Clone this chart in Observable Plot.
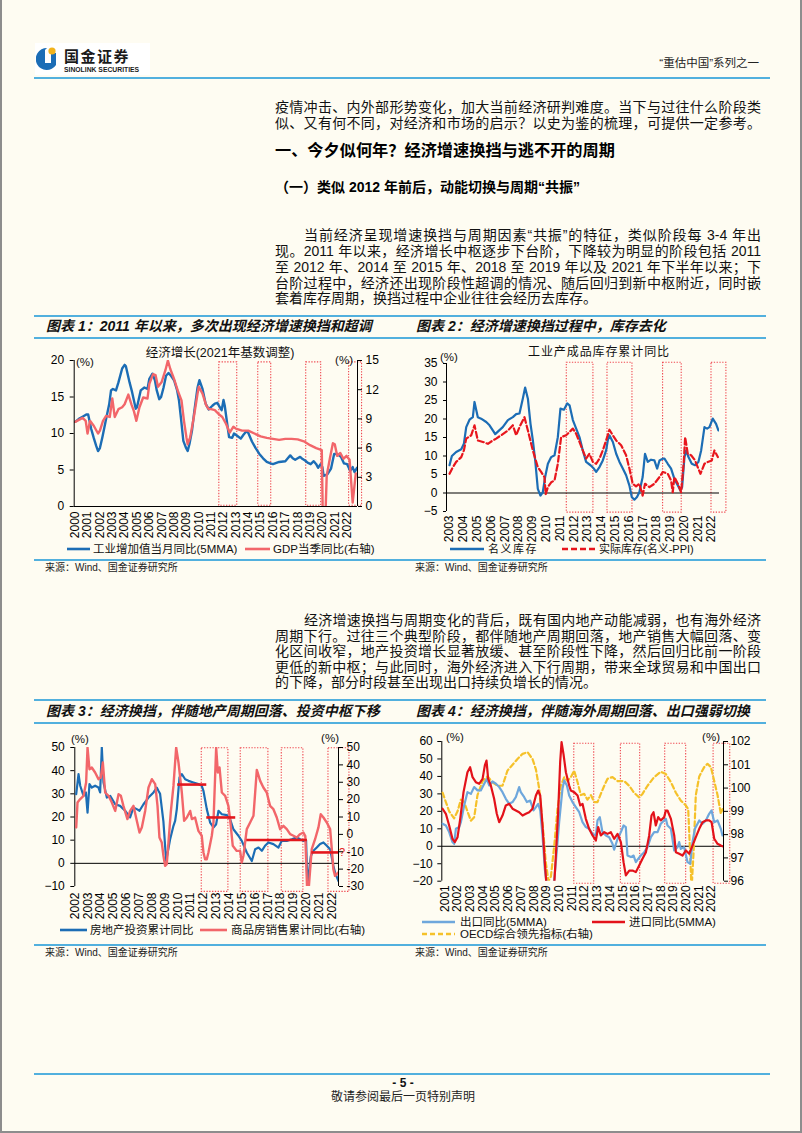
<!DOCTYPE html>
<html><head><meta charset="utf-8">
<script src="https://cdn.jsdelivr.net/npm/d3@7"></script>
<script src="https://cdn.jsdelivr.net/npm/@observablehq/plot@0.6"></script>
<style>
html,body{margin:0;padding:0;background:#fefcf2;}
#page{position:relative;width:802px;height:1133px;overflow:hidden;background:#fefcf2;font-family:"Liberation Sans","Noto Sans CJK SC",sans-serif;color:#111;box-sizing:border-box;border-left:2px solid #8d8d8d;border-right:2px solid #8d8d8d;border-bottom:2px solid #8d8d8d;}
.t{position:absolute;white-space:nowrap;}
.j{white-space:normal;text-align:justify;text-align-last:justify;}
.hl{position:absolute;height:2px;background:#52b0de;}
.chart{position:absolute;}
.chart svg{display:block;overflow:visible;}
</style></head>
<body><div id="page"></div>
<script>
// ---------------- DATA ----------------
// Chart 1: 工业增加值当月同比(5MMA) (left, %), GDP当季同比 (right, %)
const c1Years = [2000,2001,2002,2003,2004,2005,2006,2007,2008,2009,2010,2011,2012,2013,2014,2015,2016,2017,2018,2019,2020,2021,2022];
const c1LeftTicks = [0,5,10,15,20];
const c1RightTicks = [0,3,6,9,12,15];
const c1IP = [[2000.0,11.6],[2000.3,12.0],[2000.6,12.3],[2000.9,12.6],[2001.05,12.6],[2001.3,10.6],[2001.5,9.4],[2001.7,8.3],[2001.85,7.6],[2002.0,8.0],[2002.2,9.5],[2002.5,12.0],[2002.75,14.0],[2002.9,15.9],[2003.05,16.1],[2003.3,15.9],[2003.5,17.0],[2003.8,18.9],[2004.0,19.4],[2004.1,19.2],[2004.4,17.0],[2004.6,15.7],[2004.9,13.4],[2005.0,13.6],[2005.3,15.9],[2005.6,16.3],[2005.85,16.1],[2006.0,17.5],[2006.25,18.2],[2006.45,17.3],[2006.6,15.9],[2006.8,14.7],[2006.95,15.0],[2007.15,16.3],[2007.35,17.9],[2007.55,18.3],[2007.75,17.9],[2008.0,17.3],[2008.25,15.9],[2008.4,14.5],[2008.55,12.2],[2008.75,9.0],[2008.95,8.1],[2009.1,7.6],[2009.25,8.6],[2009.45,10.4],[2009.65,13.2],[2009.9,16.3],[2010.05,17.3],[2010.3,16.1],[2010.55,14.1],[2010.8,13.3],[2011.1,13.8],[2011.3,14.1],[2011.5,14.2],[2011.7,13.6],[2011.85,13.2],[2012.0,14.6],[2012.1,13.8],[2012.3,11.3],[2012.45,9.5],[2012.7,9.4],[2012.85,10.0],[2013.1,9.7],[2013.4,9.3],[2013.6,9.8],[2013.85,10.3],[2014.0,10.1],[2014.3,8.9],[2014.6,8.0],[2014.9,7.2],[2015.2,6.6],[2015.5,6.1],[2015.8,5.9],[2016.0,5.8],[2016.5,6.1],[2017.0,6.2],[2017.2,6.6],[2017.4,7.0],[2017.6,6.6],[2017.8,6.4],[2018.0,6.6],[2018.2,6.8],[2018.4,6.5],[2018.6,6.3],[2018.8,6.0],[2019.05,5.8],[2019.3,6.2],[2019.5,5.8],[2019.65,5.3],[2019.85,5.8],[2020.0,5.4],[2020.1,4.2],[2020.4,4.4],[2020.7,5.2],[2020.95,7.2],[2021.2,7.2],[2021.5,6.8],[2021.75,5.9],[2022.0,5.8],[2022.25,4.9],[2022.45,5.4],[2022.6,4.7],[2022.8,5.3]];
const c1GDP = [[2000.0,8.7],[2000.3,8.9],[2000.6,9.1],[2000.85,8.8],[2001.0,7.5],[2001.2,8.8],[2001.5,8.3],[2001.85,7.5],[2002.0,7.8],[2002.25,8.8],[2002.5,9.3],[2002.8,9.2],[2003.0,11.1],[2003.2,9.2],[2003.5,10.0],[2003.8,10.2],[2004.0,10.5],[2004.3,11.5],[2004.55,10.5],[2004.75,9.8],[2004.95,8.8],[2005.2,10.2],[2005.5,11.2],[2005.85,11.1],[2006.0,12.6],[2006.3,13.6],[2006.5,13.5],[2006.7,12.3],[2007.0,12.8],[2007.3,14.0],[2007.5,15.0],[2007.7,14.1],[2008.0,13.1],[2008.3,11.9],[2008.6,10.9],[2008.8,8.8],[2009.0,7.1],[2009.1,6.4],[2009.3,7.1],[2009.6,9.2],[2009.9,11.6],[2010.0,12.3],[2010.3,11.6],[2010.6,10.4],[2010.8,10.0],[2011.0,10.0],[2011.3,9.9],[2011.6,9.5],[2011.9,9.2],[2012.2,8.5],[2012.5,7.6],[2012.8,8.2],[2013.0,8.0],[2013.5,7.8],[2014.0,7.8],[2014.5,7.5],[2015.0,7.2],[2015.5,7.05],[2016.0,6.95],[2016.5,6.85],[2017.0,6.95],[2017.5,6.95],[2018.0,6.9],[2018.5,6.7],[2019.0,6.3],[2019.5,6.0],[2019.95,5.8],[2020.1,-6.8],[2020.35,3.2],[2020.6,4.9],[2020.85,6.5],[2021.0,6.4],[2021.2,5.2],[2021.45,5.5],[2021.7,4.9],[2021.95,5.2],[2022.2,4.8],[2022.45,0.4],[2022.7,3.4]];
const c1Boxes = [[2011.66,2013.11],[2014.81,2015.86],[2018.69,2019.90],[2022.16,2023.21]];

// Chart 2: 工业产成品库存累计同比
const c2Years = [2003,2004,2005,2006,2007,2008,2009,2010,2011,2012,2013,2014,2015,2016,2017,2018,2019,2020,2021,2022];
const c2Ticks = [-5,0,5,10,15,20,25,30,35];
const c2Nominal = [[2003.0,7.5],[2003.17,10.0],[2003.48,11.1],[2003.85,11.8],[2004.04,13.3],[2004.21,17.8],[2004.45,19.8],[2004.69,20.5],[2004.81,24.6],[2005.05,20.5],[2005.29,20.1],[2005.66,19.2],[2005.9,18.3],[2006.21,16.5],[2006.31,15.9],[2006.62,17.0],[2006.86,17.8],[2007.23,19.7],[2007.59,20.5],[2007.83,21.3],[2008.07,21.5],[2008.31,25.5],[2008.48,28.5],[2008.68,25.5],[2008.87,18.7],[2009.04,14.2],[2009.21,8.8],[2009.4,1.1],[2009.59,-0.7],[2009.76,0.2],[2009.93,4.3],[2010.13,7.9],[2010.37,9.7],[2010.61,10.2],[2010.85,15.1],[2011.04,22.8],[2011.29,22.5],[2011.53,24.2],[2011.7,23.7],[2011.94,19.7],[2012.18,17.4],[2012.42,15.1],[2012.66,11.5],[2012.9,8.4],[2013.22,7.5],[2013.46,6.6],[2013.63,5.7],[2013.87,7.0],[2014.11,8.8],[2014.35,11.5],[2014.47,14.2],[2014.59,15.6],[2014.84,13.8],[2015.08,10.6],[2015.32,8.4],[2015.56,6.6],[2015.8,4.8],[2016.04,2.0],[2016.21,-1.1],[2016.4,-1.8],[2016.59,-1.1],[2016.76,0.2],[2017.0,4.3],[2017.17,10.6],[2017.37,8.4],[2017.61,9.0],[2017.85,8.8],[2018.05,6.6],[2018.22,8.8],[2018.46,9.3],[2018.58,9.3],[2018.82,7.9],[2019.06,6.6],[2019.3,3.8],[2019.55,2.0],[2019.74,0.7],[2019.86,1.6],[2020.03,9.7],[2020.15,11.5],[2020.32,9.7],[2020.56,7.9],[2020.8,7.5],[2021.04,8.4],[2021.24,11.5],[2021.48,17.8],[2021.67,17.4],[2021.84,17.8],[2022.08,20.1],[2022.32,18.7],[2022.49,16.9]];
const c2Real = [[2003.0,5.2],[2003.24,7.0],[2003.48,8.4],[2003.85,9.7],[2004.04,11.5],[2004.21,14.7],[2004.57,15.6],[2004.81,18.3],[2005.05,14.2],[2005.42,13.8],[2005.78,13.3],[2006.14,14.2],[2006.38,14.7],[2006.74,15.6],[2007.23,16.9],[2007.59,18.3],[2007.83,15.6],[2008.07,17.8],[2008.43,20.5],[2008.68,16.9],[2009.04,11.5],[2009.4,7.0],[2009.64,5.7],[2009.88,4.3],[2009.97,-0.3],[2010.13,1.6],[2010.37,2.9],[2010.61,3.4],[2010.85,7.9],[2011.09,15.1],[2011.45,15.6],[2011.7,16.5],[2011.94,17.4],[2012.18,16.0],[2012.42,13.8],[2012.66,11.5],[2012.9,9.3],[2013.14,10.6],[2013.39,8.4],[2013.63,7.9],[2013.87,9.3],[2014.11,11.5],[2014.35,14.2],[2014.59,17.1],[2014.84,15.6],[2015.08,14.2],[2015.44,12.9],[2015.8,10.2],[2016.04,6.6],[2016.28,2.5],[2016.52,1.8],[2016.76,2.5],[2017.0,-0.7],[2017.17,2.5],[2017.49,1.6],[2017.85,2.5],[2018.22,4.3],[2018.46,5.7],[2018.82,5.2],[2019.06,3.4],[2019.18,0.2],[2019.3,4.3],[2019.55,2.5],[2019.79,0.2],[2019.98,8.4],[2020.08,15.1],[2020.27,10.6],[2020.51,10.2],[2020.8,8.8],[2020.99,7.0],[2021.19,5.2],[2021.48,7.9],[2021.72,8.4],[2022.01,8.8],[2022.2,11.5],[2022.45,9.7]];
const c2Boxes = [[2011.5,2013.43],[2014.45,2016.26],[2018.48,2019.83],[2021.99,2023.07]];

// Chart 3: 房地产投资累计同比 (left), 商品房销售累计同比 (right)
const c3Years = [2002,2003,2004,2005,2006,2007,2008,2009,2010,2011,2012,2013,2014,2015,2016,2017,2018,2019,2020,2021,2022];
const c3LeftTicks = [-10,0,10,20,30,40,50];
const c3RightTicks = [-30,-20,-10,0,10,20,30,40,50];
const c3Invest = [[2002.11,29.9],[2002.29,38.5],[2002.42,33.5],[2002.68,29.1],[2002.86,30.6],[2002.99,21.9],[2003.14,34.2],[2003.32,32.7],[2003.58,33.5],[2003.84,32.7],[2003.97,30.6],[2004.1,50],[2004.23,34.9],[2004.49,28.4],[2004.75,29.1],[2005.14,25.5],[2005.52,24.8],[2005.91,22.7],[2006.3,19.8],[2006.56,24.1],[2006.82,23.4],[2007.03,22.7],[2007.34,25.5],[2007.73,28.4],[2008.12,30.6],[2008.37,32.7],[2008.5,31.3],[2008.63,30.0],[2008.89,18.0],[2009.1,1.0],[2009.41,10.4],[2009.67,16.2],[2009.8,18.3],[2009.93,23.4],[2010.14,37.1],[2010.32,38.5],[2010.58,36.3],[2010.84,35.6],[2011.22,34.9],[2011.61,34.2],[2011.87,33.5],[2012.0,31.3],[2012.26,23.4],[2012.52,17.6],[2012.78,15.5],[2012.99,16.9],[2013.17,22.7],[2013.43,21.2],[2013.82,20.8],[2014.07,19.1],[2014.33,14.7],[2014.72,11.9],[2014.98,9.7],[2015.37,4.7],[2015.76,1.0],[2016.02,6.1],[2016.28,6.8],[2016.54,5.4],[2016.79,7.6],[2017.05,9.0],[2017.44,8.3],[2017.83,6.8],[2018.09,9.7],[2018.48,9.7],[2018.87,10.4],[2019.26,11.2],[2019.51,10.4],[2019.77,9.7],[2019.98,9.9],[2020.12,-16.3],[2020.22,-3.0],[2020.35,3.2],[2020.55,5.4],[2020.81,6.8],[2021.07,8.3],[2021.33,9.0],[2021.59,7.6],[2021.85,6.1],[2022.1,-1.0],[2022.23,-4.0],[2022.49,-7.6]];
const c3Sales = [[2002.11,4.0],[2002.21,18.3],[2002.42,20.3],[2002.68,22.2],[2002.88,29.9],[2002.99,50],[2003.14,37.5],[2003.32,38.5],[2003.58,35.6],[2003.84,31.8],[2004.02,32.7],[2004.18,41.4],[2004.36,24.1],[2004.62,22.2],[2004.88,18.3],[2005.14,13.5],[2005.4,23.1],[2005.58,22.2],[2005.78,16.4],[2006.09,8.8],[2006.3,13.5],[2006.56,16.4],[2006.82,7.8],[2007.03,1.1],[2007.21,4.0],[2007.47,13.5],[2007.73,27.0],[2007.99,31.8],[2008.25,28.9],[2008.43,16.4],[2008.58,-1.8],[2008.76,-4.7],[2008.89,-12.3],[2009.02,-18.1],[2009.15,-17.1],[2009.28,-4.7],[2009.46,12.6],[2009.67,27.9],[2009.88,50],[2010.06,41.4],[2010.32,24.1],[2010.5,7.8],[2010.71,9.7],[2010.97,13.5],[2011.1,8.8],[2011.35,9.7],[2011.61,2.0],[2011.87,-0.8],[2012.0,-10.4],[2012.13,-14.3],[2012.26,-14.3],[2012.39,-10.4],[2012.65,-0.8],[2012.78,6.8],[2012.99,50],[2013.12,35.6],[2013.25,38.5],[2013.43,24.1],[2013.69,22.2],[2013.94,16.4],[2014.07,8.8],[2014.28,-6.6],[2014.59,-9.5],[2014.85,-9.5],[2014.98,-16.2],[2015.11,-12.3],[2015.37,3.0],[2015.63,6.8],[2015.89,10.7],[2016.15,37.1],[2016.41,30.8],[2016.66,27.0],[2016.92,24.1],[2017.18,16.4],[2017.44,14.5],[2017.7,9.7],[2017.96,3.0],[2018.22,4.9],[2018.48,3.0],[2018.74,0.1],[2019.0,-0.8],[2019.26,-1.8],[2019.51,0.1],[2019.77,1.1],[2019.92,-1.0],[2020.1,-39.9],[2020.25,-24.7],[2020.42,-8.5],[2020.68,-2.8],[2020.94,4.0],[2021.12,11.6],[2021.33,9.7],[2021.59,6.8],[2021.85,3.0],[2021.98,-8.5],[2022.1,-20.0],[2022.23,-23.9],[2022.49,-21.9]];
const c3Centers = [[2010.0,2012.26,34.0],[2012.26,2014.51,19.8],[2015.37,2020.08,10.1],[2020.42,2022.5,4.7]];
const c3Boxes = [[2011.87,2013.94],[2014.9,2017.05],[2018.09,2019.77],[2021.72,2023.35]];

// Chart 4: 出口同比(5MMA), 进口同比(5MMA) (left), OECD综合领先指标 (right)
const c4Years = [2001,2002,2003,2004,2005,2006,2007,2008,2009,2010,2011,2012,2013,2014,2015,2016,2017,2018,2019,2020,2021,2022];
const c4LeftTicks = [-20,-10,0,10,20,30,40,50,60];
const c4RightTicks = [96,97,98,99,100,101,102];
const c4Export = [[2000.82,12.9],[2001.08,11.9],[2001.34,8.1],[2001.6,2.4],[2001.73,1.4],[2001.87,10.0],[2002.13,11.0],[2002.26,13.8],[2002.52,23.4],[2002.78,31.0],[2003.05,30.0],[2003.31,33.9],[2003.57,32.0],[2003.83,32.0],[2004.1,35.8],[2004.31,38.6],[2004.49,34.8],[2004.75,37.1],[2005.02,35.8],[2005.28,33.9],[2005.54,31.0],[2005.8,27.2],[2006.07,24.3],[2006.33,25.3],[2006.59,28.1],[2006.85,33.9],[2006.98,31.0],[2007.25,28.1],[2007.46,25.3],[2007.72,26.2],[2007.98,20.5],[2008.17,22.4],[2008.35,24.3],[2008.51,20.5],[2008.69,6.2],[2008.87,-12.9],[2009.03,-22],[2009.35,-24],[2009.61,-19.6],[2009.74,-9.1],[2010.0,13.8],[2010.26,32.9],[2010.4,37.7],[2010.61,34.8],[2010.79,29.1],[2011.05,25.3],[2011.31,22.4],[2011.58,19.5],[2011.84,13.8],[2012.1,11.0],[2012.36,10.0],[2012.63,7.1],[2012.89,6.2],[2013.02,14.8],[2013.2,16.7],[2013.41,8.1],[2013.68,6.2],[2013.94,5.2],[2014.2,1.4],[2014.33,-1.9],[2014.6,4.3],[2014.86,8.1],[2015.07,11.9],[2015.25,11.0],[2015.38,-5.3],[2015.65,-6.2],[2015.86,-5.3],[2016.04,-9.1],[2016.22,-7.2],[2016.43,-5.3],[2016.7,-3.4],[2016.96,-0.5],[2017.22,5.2],[2017.48,8.1],[2017.75,8.1],[2018.0,12.9],[2018.27,14.8],[2018.4,15.7],[2018.53,11.9],[2018.8,10.0],[2019.06,-2.4],[2019.32,-0.5],[2019.45,2.4],[2019.58,-1.5],[2019.84,-0.5],[2020.11,-9.1],[2020.32,-10.0],[2020.5,2.4],[2020.69,10.0],[2021.03,14.8],[2021.29,12.9],[2021.55,14.8],[2021.81,18.6],[2022.0,20.5],[2022.21,13.8],[2022.47,14.8],[2022.73,10.0],[2022.86,6.2]];
const c4Import = [[2000.82,21.5],[2001.08,18.6],[2001.34,11.9],[2001.6,4.3],[2001.79,2.4],[2002.0,5.2],[2002.21,15.7],[2002.47,31.0],[2002.78,42.4],[2002.99,45.3],[2003.18,39.6],[2003.44,36.7],[2003.7,35.8],[2003.97,38.6],[2004.15,46.3],[2004.28,49.1],[2004.41,38.6],[2004.62,34.8],[2004.88,27.2],[2005.09,18.6],[2005.28,13.8],[2005.54,17.6],[2005.8,23.4],[2006.07,24.3],[2006.33,21.5],[2006.59,20.5],[2006.85,19.5],[2007.12,17.6],[2007.38,18.6],[2007.64,19.5],[2007.9,21.5],[2008.17,29.1],[2008.35,31.9],[2008.51,29.1],[2008.69,11.9],[2008.87,-9.1],[2009.03,-25],[2009.61,-22],[2009.74,-5.3],[2009.92,19.5],[2010.08,48.2],[2010.19,59.6],[2010.34,52.9],[2010.53,42.4],[2010.79,34.8],[2010.92,31.9],[2011.18,31.0],[2011.45,29.1],[2011.66,23.4],[2011.84,24.3],[2012.1,15.7],[2012.36,10.0],[2012.63,6.2],[2012.89,3.3],[2013.07,11.0],[2013.28,6.2],[2013.55,8.1],[2013.81,7.1],[2014.07,8.1],[2014.33,4.3],[2014.6,7.1],[2014.86,2.4],[2015.07,-9.1],[2015.25,-16.7],[2015.52,-13.9],[2015.78,-13.9],[2016.04,-14.8],[2016.3,-11.0],[2016.56,-7.2],[2016.83,-3.4],[2017.09,6.2],[2017.27,17.6],[2017.43,19.5],[2017.61,11.9],[2017.8,16.7],[2018.0,14.8],[2018.27,16.7],[2018.4,20.5],[2018.53,20.5],[2018.8,15.7],[2019.06,6.2],[2019.19,-3.4],[2019.45,-4.3],[2019.71,-5.3],[2019.98,-2.4],[2020.24,-4.3],[2020.5,0.4],[2020.76,5.2],[2021.03,10.0],[2021.29,13.8],[2021.55,14.8],[2021.81,14.8],[2022.0,13.8],[2022.21,4.3],[2022.47,1.4],[2022.73,0.4],[2022.86,0.0]];
const c4OECD = [[2000.82,99.8],[2001.08,99.4],[2001.34,99.0],[2001.73,98.7],[2002.0,99.0],[2002.26,99.5],[2002.52,99.4],[2002.78,99.0],[2003.05,98.6],[2003.31,98.75],[2003.57,99.7],[2003.97,100.3],[2004.36,100.5],[2004.75,100.25],[2005.15,100.1],[2005.54,100.1],[2005.93,100.75],[2006.33,101.0],[2006.72,101.25],[2007.12,101.47],[2007.51,101.54],[2007.9,101.25],[2008.17,100.8],[2008.43,99.97],[2008.69,98.5],[2008.95,96.8],[2009.16,96.0],[2009.35,96.2],[2009.61,97.5],[2009.87,99.1],[2010.13,100.1],[2010.4,100.47],[2010.66,100.3],[2010.92,100.47],[2011.18,100.75],[2011.45,100.25],[2011.71,99.7],[2011.97,99.75],[2012.23,99.5],[2012.5,99.7],[2012.76,99.4],[2013.02,99.4],[2013.28,99.75],[2013.55,100.1],[2013.81,100.4],[2014.2,100.47],[2014.6,100.3],[2015.12,100.3],[2015.51,100.1],[2015.9,99.8],[2016.3,99.6],[2016.56,99.75],[2016.96,100.1],[2017.48,100.47],[2018.0,100.7],[2018.4,100.6],[2018.8,100.25],[2019.19,99.8],[2019.58,99.46],[2019.98,99.25],[2020.16,99.1],[2020.32,97.1],[2020.42,95.6],[2020.58,97.2],[2020.76,99.7],[2021.03,100.5],[2021.42,100.9],[2021.68,101.04],[2021.95,100.9],[2022.21,100.3],[2022.47,99.7],[2022.73,98.9],[2022.86,99.1]];
const c4Boxes = [[2011.19,2012.76],[2014.86,2016.38],[2018.35,2020.0],[2022.16,2023.47]];

// ---------------- PAGE HELPERS ----------------
const page = document.getElementById("page");
const CJK = '"Liberation Sans","Noto Sans CJK SC",sans-serif';
function T(txt, x, y, o = {}) {
  const d = document.createElement("div");
  d.className = "t";
  const lh = o.lh || 18;
  d.style.left = x + "px";
  d.style.top = (y - lh / 2) + "px";
  d.style.lineHeight = lh + "px";
  d.style.fontSize = (o.size || 14) + "px";
  d.style.fontFamily = o.family || CJK;
  if (o.weight) d.style.fontWeight = o.weight;
  if (o.italic) d.style.fontStyle = "italic";
  if (o.color) d.style.color = o.color;
  if (o.ls) d.style.letterSpacing = o.ls + "px";
  if (o.width) d.style.width = o.width + "px";
  if (o.justify) d.classList.add("j");
  if (o.anchor === "middle") d.style.transform = "translateX(-50%)";
  if (o.anchor === "end") d.style.transform = "translateX(-100%)";
  d.textContent = txt;
  page.appendChild(d);
  return d;
}
function HL(x1, x2, y, color, h) {
  const d = document.createElement("div");
  d.className = "hl";
  d.style.left = x1 + "px"; d.style.width = (x2 - x1) + "px";
  d.style.top = (y - (h || 2) / 2) + "px"; d.style.height = (h || 2) + "px";
  if (color) d.style.background = color;
  page.appendChild(d);
}
function swatch(x1, x2, y, color, width, dash) {
  const ns = "http://www.w3.org/2000/svg";
  const s = document.createElementNS(ns, "svg");
  s.setAttribute("width", x2 - x1); s.setAttribute("height", 8);
  s.style.position = "absolute"; s.style.left = x1 + "px"; s.style.top = (y - 4) + "px";
  const l = document.createElementNS(ns, "line");
  l.setAttribute("x1", 0); l.setAttribute("x2", x2 - x1); l.setAttribute("y1", 4); l.setAttribute("y2", 4);
  l.setAttribute("stroke", color); l.setAttribute("stroke-width", width);
  if (dash) l.setAttribute("stroke-dasharray", dash);
  s.appendChild(l); page.appendChild(s);
}

// ---------------- HEADER ----------------
(function header() {
  const box = document.createElement("div");
  box.style.cssText = "position:absolute;left:33px;top:43px;width:115px;height:32px;background:#ffffff;";
  page.appendChild(box);
  const ns = "http://www.w3.org/2000/svg";
  const s = document.createElementNS(ns, "svg");
  s.setAttribute("width", 22); s.setAttribute("height", 26);
  s.style.cssText = "position:absolute;left:34px;top:46px;";
  s.innerHTML = '<path d="M11 2 A11 11 0 1 0 20 19 L20 7 L13 7 L13 17 L9 17 L9 4 Z" fill="#1b6db6"/><rect x="9" y="7" width="6" height="10" fill="#ffffff"/><circle cx="16" cy="5" r="3.6" fill="#f2b31b"/>';
  page.appendChild(s);
  T("国金证券", 62, 57, {size: 15, weight: 700, ls: 1.5, color: "#1a1a1a"});
  T("SINOLINK SECURITIES", 62, 69.5, {size: 6.8, weight: 700, color: "#1a1a1a", lh: 8, family: '"Liberation Sans",sans-serif'});
  T("“重估中国”系列之一", 757, 63, {size: 11.5, anchor: "end", color: "#222"});
  HL(32, 768, 77.5, "#52b0de", 2);
})();

// ---------------- BODY TEXT ----------------
const bodyO = {size: 14, weight: 400, lh: 16, color: "#111"};
const LX = 273, LW = 486;
T("疫情冲击、内外部形势变化，加大当前经济研判难度。当下与过往什么阶段类", LX, 106.5, {...bodyO, width: LW, justify: true});
T("似、又有何不同，对经济和市场的启示？以史为鉴的梳理，可提供一定参考。", LX, 123, {...bodyO, width: LW, justify: true});
T("一、今夕似何年？经济增速换挡与逃不开的周期", LX, 150, {size: 16.2, weight: 700, lh: 20, color: "#000"});
T("（一）类似 2012 年前后，动能切换与周期“共振”", LX, 186.5, {size: 14, weight: 700, lh: 18, color: "#000"});
const p1 = [
  "当前经济呈现增速换挡与周期因素“共振”的特征，类似阶段每 3-4 年出",
  "现。2011 年以来，经济增长中枢逐步下台阶，下降较为明显的阶段包括 2011",
  "至 2012 年、2014 至 2015 年、2018 至 2019 年以及 2021 年下半年以来；下",
  "台阶过程中，经济还出现阶段性超调的情况、随后回归到新中枢附近，同时嵌",
  "套着库存周期，换挡过程中企业往往会经历去库存。"];
const p1y = [235, 251, 267, 282.5, 298];
p1.forEach((s, i) => {
  if (i === 0) T(s, LX + 29, p1y[i], {...bodyO, width: LW - 29, justify: true});
  else if (i === p1.length - 1) T(s, LX, p1y[i], bodyO);
  else T(s, LX, p1y[i], {...bodyO, width: LW, justify: true});
});
const p2 = [
  "经济增速换挡与周期变化的背后，既有国内地产动能减弱，也有海外经济",
  "周期下行。过往三个典型阶段，都伴随地产周期回落，地产销售大幅回落、变",
  "化区间收窄，地产投资增长显著放缓、甚至阶段性下降，然后回归比前一阶段",
  "更低的新中枢；与此同时，海外经济进入下行周期，带来全球贸易和中国出口",
  "的下降，部分时段甚至出现出口持续负增长的情况。"];
const p2y = [620, 635.5, 651, 666.5, 682];
p2.forEach((s, i) => {
  if (i === 0) T(s, LX + 29, p2y[i], {...bodyO, width: LW - 29, justify: true});
  else if (i === p2.length - 1) T(s, LX, p2y[i], bodyO);
  else T(s, LX, p2y[i], {...bodyO, width: LW, justify: true});
});

// ---------------- CHART FRAMES ----------------
const titleO = {size: 14, weight: 700, italic: true, lh: 20, color: "#111"};
HL(32, 764, 316); HL(32, 764, 338); HL(32, 764, 560);
HL(32, 764, 700); HL(32, 764, 723); HL(32, 764, 945);
T("图表 1：2011 年以来，多次出现经济增速换挡和超调", 44, 326, titleO);
T("图表 2：经济增速换挡过程中，库存去化", 414, 326, titleO);
T("图表 3：经济换挡，伴随地产周期回落、投资中枢下移", 44, 711, titleO);
T("图表 4：经济换挡，伴随海外周期回落、出口强弱切换", 414, 711, titleO);
const srcO = {size: 10, lh: 14, color: "#222"};
T("来源：Wind、国金证券研究所", 43, 568, srcO);
T("来源：Wind、国金证券研究所", 413, 568, srcO);
T("来源：Wind、国金证券研究所", 43, 953, srcO);
T("来源：Wind、国金证券研究所", 413, 953, srcO);

// ---------------- PLOT HELPERS ----------------
const BOX = "#ef4850";
function mk(o) {
  const svg = Plot.plot({
    width: o.width, height: o.height,
    marginTop: o.mt, marginRight: o.mr, marginBottom: o.mb, marginLeft: o.ml,
    x: {domain: o.xd}, y: {domain: o.yd},
    style: {background: "transparent", fontFamily: '"Liberation Sans",Arial,sans-serif', fontSize: "12px", color: "#000", overflow: "visible"},
    marks: o.marks
  });
  const w = document.createElement("div");
  w.className = "chart";
  w.style.left = o.left + "px"; w.style.top = o.top + "px"; w.style.width = o.width + "px";
  w.appendChild(svg);
  page.appendChild(w);
}
const px = d => d[0], py = d => d[1];
const boxMark = (boxes, lo, hi) => Plot.rect(boxes, {x1: d => d[0], x2: d => d[1], y1: () => lo, y2: () => hi, fill: "none", stroke: BOX, strokeWidth: 1.1, strokeDasharray: "1.3,1.5"});
const xAxis = (years, pad) => Plot.axisX({ticks: years, tickFormat: d => String(d), tickRotate: -90, tickSize: 0, tickPadding: pad, label: null, fontSize: 12});

// Chart 1
mk({left: 30, top: 345, width: 372, height: 205, mt: 15, mr: 47, mb: 44, ml: 41.7,
  xd: [1999.92, 2022.84], yd: [0, 20],
  marks: [
    boxMark(c1Boxes, 0.1, 19.75),
    Plot.line(c1IP, {x: px, y: py, stroke: "#1c6db5", strokeWidth: 2.4, clip: true}),
    Plot.line(c1GDP, {x: px, y: d => d[1] * 20 / 15, stroke: "#f2666a", strokeWidth: 2.4, clip: true}),
    Plot.ruleX([1999.92]), Plot.ruleX([2022.84]), Plot.ruleY([0]),
    Plot.axisY({ticks: c1LeftTicks, tickSize: 4, tickPadding: 6, label: null}),
    Plot.axisY({anchor: "right", ticks: c1RightTicks.map(r => r * 20 / 15), tickFormat: d => String(Math.round(d * 15 / 20)), tickSize: 4, tickPadding: 4, label: null}),
    xAxis(c1Years, 5)
  ]});
T("经济增长(2021年基数调整)", 218, 353, {size: 12.5, anchor: "middle", lh: 16, color: "#111"});
T("(%)", 74, 362, {size: 11.5, lh: 14});
T("(%)", 351, 360, {size: 11.5, lh: 14, anchor: "end"});
swatch(65, 88, 549, "#1c6db5", 2.6);
T("工业增加值当月同比(5MMA)", 91, 549, {size: 11.5, lh: 14, color: "#111"});
swatch(243, 268, 549, "#f2666a", 2.6);
T("GDP当季同比(右轴)", 271, 549, {size: 11.5, lh: 14, color: "#111"});

// Chart 2
mk({left: 405, top: 345, width: 362, height: 205, mt: 18, mr: 50, mb: 39, ml: 39,
  xd: [2002.78, 2022.57], yd: [-5, 35],
  marks: [
    boxMark(c2Boxes, -5.3, 35.2),
    Plot.ruleX([2002.78]), Plot.ruleY([0]),
    Plot.line(c2Nominal, {x: px, y: py, stroke: "#1c6db5", strokeWidth: 2.2, clip: true}),
    Plot.line(c2Real, {x: px, y: py, stroke: "#e8161d", strokeWidth: 2.2, strokeDasharray: "6,3", clip: true}),
    Plot.axisY({ticks: c2Ticks, tickSize: 3, tickPadding: 6, label: null}),
    xAxis(c2Years, 4)
  ]});
T("工业产成品库存累计同比", 597, 352, {size: 12, ls: 0.9, anchor: "middle", lh: 16, color: "#111"});
T("(%)", 438, 357, {size: 11.5, lh: 14});
swatch(448, 482, 549, "#1c6db5", 2.6);
T("名义库存", 486, 549, {size: 11, ls: 1.5, lh: 14, color: "#111"});
swatch(560, 593, 549, "#e8161d", 2.6, "6,3");
T("实际库存(名义-PPI)", 597, 549, {size: 11, lh: 14, color: "#111"});

// Chart 3
const c3R = r => (r + 30) * 0.75 - 10;
mk({left: 30, top: 728, width: 372, height: 200, mt: 19, mr: 66, mb: 42, ml: 42.3,
  xd: [2002.0, 2022.5], yd: [-10, 50],
  marks: [
    boxMark(c3Boxes, -12.3, 49.7),
    Plot.ruleX([2002.0]), Plot.ruleX([2022.5]), Plot.ruleY([0]),
    Plot.line(c3Invest, {x: px, y: py, stroke: "#1c6db5", strokeWidth: 2.2, clip: true}),
    Plot.line(c3Sales, {x: px, y: d => c3R(d[1]), stroke: "#f2666a", strokeWidth: 2.4, clip: true}),
    Plot.ruleY(c3Centers, {x1: d => d[0], x2: d => d[1], y: d => d[2], stroke: "#e3171d", strokeWidth: 2.6}),
    Plot.text([["?", 2022.5, 4.7]], {x: d => d[1], y: d => d[2], text: d => d[0], fill: "#e3171d", fontSize: 11, textAnchor: "start", dx: 0.5}),
    Plot.axisY({ticks: c3LeftTicks, tickSize: 4, tickPadding: 6, label: null}),
    Plot.axisY({anchor: "right", ticks: c3RightTicks.map(c3R), tickFormat: d => String(Math.round((d + 10) / 0.75 - 30)), tickSize: 4, tickPadding: 4, label: null}),
    xAxis(c3Years, 6)
  ]});
T("(%)", 69, 739, {size: 11.5, lh: 14});
T("(%)", 337, 738, {size: 11.5, lh: 14, anchor: "end"});
swatch(58, 85, 930, "#1c6db5", 2.6);
T("房地产投资累计同比", 88, 930, {size: 11.5, lh: 14, color: "#111"});
swatch(198, 225, 930, "#f2666a", 2.6);
T("商品房销售累计同比(右轴)", 229, 930, {size: 11.5, lh: 14, color: "#111"});

// Chart 4
const c4R = r => (r - 96) * 80 / 6 - 20;
mk({left: 405, top: 728, width: 362, height: 190, mt: 13, mr: 46, mb: 37.3, ml: 34.3,
  xd: [2000.76, 2022.94], yd: [-20, 60],
  marks: [
    boxMark(c4Boxes, -21.5, 58.7),
    Plot.ruleX([2000.76]), Plot.ruleX([2022.94]), Plot.ruleY([0]),
    Plot.line(c4OECD, {x: px, y: d => c4R(d[1]), stroke: "#f5c12a", strokeWidth: 2.2, strokeDasharray: "5,3", clip: true}),
    Plot.line(c4Export, {x: px, y: py, stroke: "#6ea7dc", strokeWidth: 2.2, clip: true}),
    Plot.line(c4Import, {x: px, y: py, stroke: "#e3121a", strokeWidth: 2.2, clip: true}),
    Plot.axisY({ticks: c4LeftTicks, tickSize: 4, tickPadding: 5, label: null}),
    Plot.axisY({anchor: "right", ticks: c4RightTicks.map(c4R), tickFormat: d => String(Math.round((d + 20) * 6 / 80 + 96)), tickSize: 4, tickPadding: 3, label: null}),
    xAxis(c4Years, 4)
  ]});
T("(%)", 444, 737, {size: 11.5, lh: 14});
T("(%)", 718, 737, {size: 11.5, lh: 14, anchor: "end"});
swatch(420, 453, 922, "#6ea7dc", 2.6);
T("出口同比(5MMA)", 458, 922, {size: 11.5, lh: 13, color: "#111"});
swatch(590, 623, 922, "#e3121a", 2.6);
T("进口同比(5MMA)", 627, 922, {size: 11.5, lh: 13, color: "#111"});
swatch(420, 453, 934, "#f5c12a", 2.6, "5,3");
T("OECD综合领先指标(右轴)", 458, 934, {size: 11.5, lh: 13, color: "#111"});

// ---------------- FOOTER ----------------
HL(32, 768, 1074, "#52b0de", 2);
T("- 5 -", 401, 1083, {size: 12, weight: 700, anchor: "middle", lh: 14});
T("敬请参阅最后一页特别声明", 401, 1097, {size: 12, anchor: "middle", lh: 14, color: "#222"});
</script>
</body></html>
